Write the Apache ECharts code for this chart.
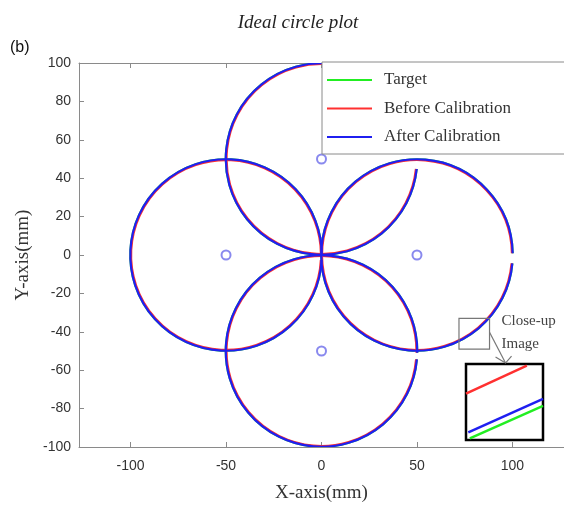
<!DOCTYPE html>
<html>
<head>
<meta charset="utf-8">
<script src="https://cdn.jsdelivr.net/npm/echarts@6/dist/echarts.min.js"></script>
<style>
  html, body { margin: 0; padding: 0; background: #fff; }
  #chart { width: 564px; height: 510px; }
</style>
</head>
<body>
<div id="chart"></div>
<script>
// Four circles of radius 50 mm around the origin
const centerX = [0, 50, 0, -50];
const centerY = [50, 0, -50, 0];
const targetR = [50, 50, 50, 50];
const beforeR = [49.6, 49.6, 49.6, 49.6];
const afterR = [50, 50, 50, 50];
// traced sweep of each circle, degrees counter-clockwise from +x
const arcStart = [3, 1, -1, 0];
const arcEnd = [354, 355, 355, 357];

// close-up window (mm) and the segments seen inside it (normalised 0..1)
const closeUpX = [72, 88];
const closeUpY = [-49, -33];
const zoomTargetX = [0.05, 1.0];
const zoomTargetY = [0.02, 0.45];
const zoomBeforeX = [0.0, 0.79];
const zoomBeforeY = [0.61, 0.98];
const zoomAfterX = [0.03, 1.0];
const zoomAfterY = [0.10, 0.54];

const xTicks = [-100, -50, 0, 50, 100];

const names = ['Target', 'Before Calibration', 'After Calibration'];
const colors = ['#22ee22', '#ff3030', '#1f1ff0'];
const radii = [targetR, beforeR, afterR];

const chart = echarts.init(document.getElementById('chart'));

function arcRows(r) {
  return centerX.map((x, i) => [x, centerY[i], r[i], arcStart[i], arcEnd[i]]);
}

function circleSeries(idx) {
  return {
    name: names[idx],
    type: 'custom',
    xAxisIndex: 0,
    yAxisIndex: 0,
    clip: true,
    z: 2 + idx,
    itemStyle: { color: colors[idx] },
    encode: { x: 0, y: 1 },
    data: arcRows(radii[idx]),
    renderItem: function (params, api) {
      const c = api.coord([api.value(0), api.value(1)]);
      const s = api.size([api.value(2), api.value(2)]);
      const rPx = (s[0] + s[1]) / 2;
      const a0 = api.value(3) * Math.PI / 180;
      const a1 = api.value(4) * Math.PI / 180;
      return {
        type: 'arc',
        shape: { cx: c[0], cy: c[1], r: rPx, startAngle: -a1, endAngle: -a0, clockwise: true },
        style: { stroke: colors[idx], lineWidth: 2.2, fill: null }
      };
    }
  };
}

function zoomSeries(idx, xs, ys) {
  return {
    name: names[idx],
    type: 'line',
    xAxisIndex: 2,
    yAxisIndex: 1,
    symbol: 'none',
    clip: true,
    z: 20 + idx,
    lineStyle: { color: colors[idx], width: 2.5 },
    itemStyle: { color: colors[idx] },
    data: xs.map((x, i) => [x, ys[i]])
  };
}

const axisGrey = '#8a8a8a';
const serif = 'Liberation Serif';
const sans = 'Liberation Sans';

const option = {
  animation: false,
  backgroundColor: '#fff',
  title: {
    text: 'Ideal circle plot',
    left: 293,
    top: 8,
    textAlign: 'center',
    textStyle: { fontFamily: serif, fontStyle: 'italic', fontWeight: 'normal', fontSize: 19, color: '#222' }
  },
  legend: {
    data: names,
    orient: 'vertical',
    left: 322,
    top: 62,
    icon: 'rect',
    itemWidth: 45,
    itemHeight: 2,
    itemGap: 8.5,
    padding: [8, 60, 7, 5],
    backgroundColor: '#fff',
    borderColor: '#8a8a8a',
    borderWidth: 1,
    z: 20,
    selectedMode: false,
    textStyle: { fontFamily: serif, fontSize: 17, color: '#333', lineHeight: 20, padding: [0, 0, 0, 7] }
  },
  grid: [
    { left: 79, top: 63, width: 490, height: 384 },
    { left: 466, top: 364, width: 77, height: 76, show: true, backgroundColor: '#fff', borderColor: '#000', borderWidth: 2.5, z: 8 }
  ],
  xAxis: [
    {
      type: 'value', gridIndex: 0, min: -127, max: 127,
      name: 'X-axis(mm)', nameLocation: 'middle', nameGap: 37,
      nameTextStyle: { fontFamily: serif, fontSize: 19, color: '#333' },
      axisLine: { show: true, onZero: false, lineStyle: { color: axisGrey } },
      axisTick: { show: true, inside: true, length: 5, customValues: xTicks, lineStyle: { color: axisGrey } },
      axisLabel: { customValues: xTicks, fontFamily: sans, fontSize: 14, color: '#333', margin: 12 },
      splitLine: { show: false }
    },
    {
      type: 'value', gridIndex: 0, position: 'top', min: -127, max: 127,
      axisLine: { show: true, onZero: false, lineStyle: { color: axisGrey } },
      axisTick: { show: true, inside: true, length: 5, customValues: xTicks, lineStyle: { color: axisGrey } },
      axisLabel: { show: false },
      splitLine: { show: false }
    },
    {
      type: 'value', gridIndex: 1, min: 0, max: 1, show: false
    }
  ],
  yAxis: [
    {
      type: 'value', gridIndex: 0, min: -100, max: 100, interval: 20,
      name: 'Y-axis(mm)', nameLocation: 'middle', nameGap: 46,
      nameTextStyle: { fontFamily: serif, fontSize: 19, color: '#333' },
      axisLine: { show: true, onZero: false, lineStyle: { color: axisGrey } },
      axisTick: { show: true, inside: true, length: 5, lineStyle: { color: axisGrey } },
      axisLabel: { fontFamily: sans, fontSize: 14, color: '#333', margin: 8 },
      splitLine: { show: false }
    },
    {
      type: 'value', gridIndex: 1, min: 0, max: 1, show: false
    }
  ],
  series: [
    circleSeries(0),
    circleSeries(1),
    circleSeries(2),
    {
      name: 'centres',
      type: 'scatter',
      xAxisIndex: 0,
      yAxisIndex: 0,
      symbol: 'emptyCircle',
      symbolSize: 9,
      z: 6,
      itemStyle: { color: '#6b6bea', borderColor: '#6b6bea', borderWidth: 1.5 },
      data: centerX.map((x, i) => [x, centerY[i]])
    },
    zoomSeries(0, zoomTargetX, zoomTargetY),
    zoomSeries(1, zoomBeforeX, zoomBeforeY),
    zoomSeries(2, zoomAfterX, zoomAfterY)
  ]
};

chart.setOption(option);

// close-up marker box, its arrow to the inset and the caption
const p0 = chart.convertToPixel({ gridIndex: 0 }, [closeUpX[0], closeUpY[1]]);
const p1 = chart.convertToPixel({ gridIndex: 0 }, [closeUpX[1], closeUpY[0]]);
const boxW = p1[0] - p0[0];
const boxH = p1[1] - p0[1];
const tip = [p1[0] + 16, p1[1] + 14];
chart.setOption({
  graphic: [
    { type: 'rect', z: 30, shape: { x: p0[0], y: p0[1], width: boxW, height: boxH },
      style: { fill: null, stroke: '#777', lineWidth: 1.2 } },
    { type: 'polyline', z: 30, shape: { points: [[p1[0], p0[1] + boxH * 0.45], tip] },
      style: { fill: null, stroke: '#777', lineWidth: 1.2 } },
    { type: 'polyline', z: 30, shape: { points: [[tip[0] - 10, tip[1] - 6], tip, [tip[0] + 6, tip[1] - 7]] },
      style: { fill: null, stroke: '#777', lineWidth: 1.2 } },
    { type: 'text', z: 30, left: p1[0] + 12, top: p0[1] - 5,
      style: { text: 'Close-up', font: '15px "Liberation Serif"', fill: '#444' } },
    { type: 'text', z: 30, left: p1[0] + 12, top: p0[1] + 18,
      style: { text: 'Image', font: '15px "Liberation Serif"', fill: '#444' } },
    { type: 'text', left: 10, top: 40,
      style: { text: '(b)', font: '16px "Liberation Sans"', fill: '#111' } }
  ]
});
</script>
</body>
</html>
